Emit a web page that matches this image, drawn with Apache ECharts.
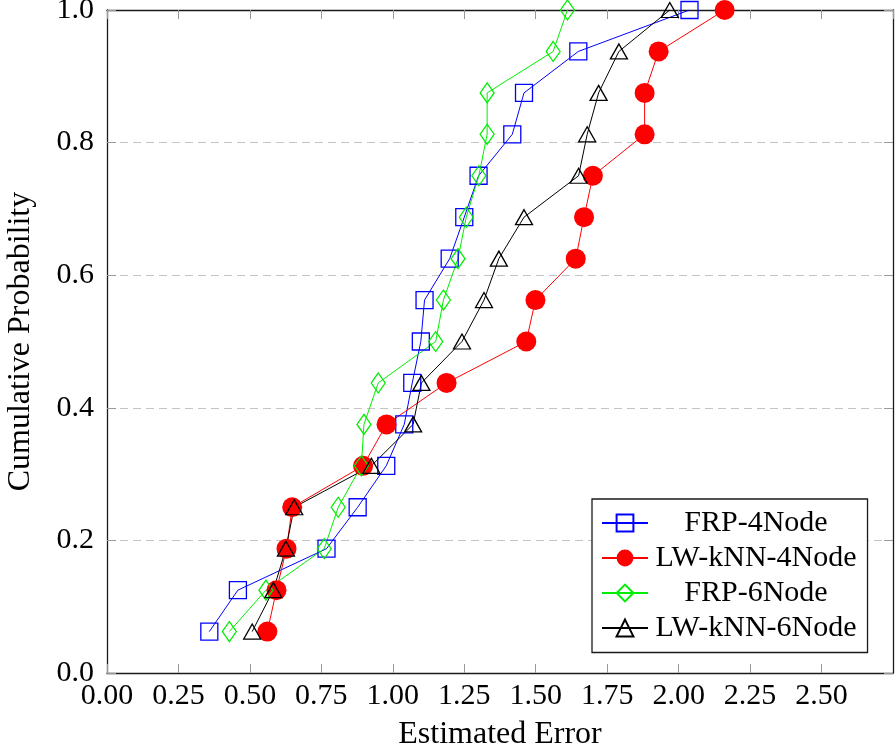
<!DOCTYPE html>
<html>
<head>
<meta charset="utf-8">
<script src="https://cdn.jsdelivr.net/npm/echarts@6/dist/echarts.min.js"></script>
<style>
  html, body { margin: 0; padding: 0; background: #fff; }
  #chart { width: 896px; height: 754px; }
</style>
</head>
<body>
<div id="chart"></div>
<script>
// Cumulative probability levels (k/16)
const probLevels = [0.0625, 0.125, 0.1875, 0.25, 0.3125, 0.375, 0.4375, 0.5,
                    0.5625, 0.625, 0.6875, 0.75, 0.8125, 0.875, 0.9375, 1.0];

// Sorted estimated errors for each method
const errFRP4 = [0.358, 0.458, 0.768, 0.877, 0.977, 1.04, 1.068, 1.098,
                 1.111, 1.199, 1.25, 1.30, 1.418, 1.459, 1.649, 2.038];
const errKNN4 = [0.561, 0.593, 0.628, 0.648, 0.896, 0.978, 1.188, 1.467,
                 1.499, 1.640, 1.669, 1.70, 1.881, 1.881, 1.930, 2.161];
const errFRP6 = [0.428, 0.556, 0.760, 0.809, 0.890, 0.899, 0.949, 1.150,
                 1.177, 1.228, 1.257, 1.301, 1.330, 1.330, 1.561, 1.611];
const errKNN6 = [0.508, 0.582, 0.626, 0.655, 0.925, 1.071, 1.100, 1.242,
                 1.319, 1.371, 1.459, 1.650, 1.680, 1.720, 1.791, 1.969];

const seriesNames = ['FRP-4Node', 'LW-kNN-4Node', 'FRP-6Node', 'LW-kNN-6Node'];

const FONT = '"Liberation Serif", "DejaVu Serif", serif';

function pairs(xs) {
  return xs.map((x, i) => [x, probLevels[i]]);
}

function makeSeries(name, xs, color, symbol, size, filled) {
  return {
    name: name,
    type: 'line',
    data: pairs(xs),
    symbol: symbol,
    symbolSize: size,
    showAllSymbol: true,
    lineStyle: { color: color, width: 1 },
    itemStyle: filled
      ? { color: color, borderColor: color, borderWidth: 0 }
      : { color: 'rgba(0,0,0,0)', borderColor: color, borderWidth: 1.3 },
    emphasis: { disabled: true },
    animation: false
  };
}

const chart = echarts.init(document.getElementById('chart'), null, { renderer: 'canvas' });

const axisLineStyle = { color: '#1a1a1a', width: 1.3 };
const tickStyle = { show: true, inside: true, length: 9, lineStyle: { color: '#999', width: 1 } };

chart.setOption({
  backgroundColor: '#fff',
  animation: false,
  grid: { left: 107, right: 3, top: 10, bottom: 81, outerBoundsMode: 'none', containLabel: false },
  legend: {
    orient: 'vertical',
    left: 592,
    top: 499,
    padding: [9, 11, 9.5, 9],
    itemWidth: 46,
    itemHeight: 21,
    itemGap: 5,
    borderColor: '#1a1a1a',
    borderWidth: 1.3,
    backgroundColor: '#fff',
    data: seriesNames,
    formatter: n => '{c|' + n + '}',
    textStyle: {
      fontFamily: FONT,
      fontSize: 30,
      color: '#000',
      rich: { c: { width: 206, align: 'center', fontFamily: FONT, fontSize: 30, color: '#000' } }
    }
  },
  xAxis: [
    {
      type: 'value', min: 0, max: 2.75, interval: 0.25,
      name: 'Estimated Error', nameLocation: 'middle', nameGap: 46,
      nameTextStyle: { fontFamily: FONT, fontSize: 32, color: '#000' },
      axisLine: { show: true, onZero: false, lineStyle: axisLineStyle },
      axisTick: tickStyle,
      axisLabel: {
        fontFamily: FONT, fontSize: 30, color: '#000', margin: 8,
        showMaxLabel: false,
        formatter: v => v.toFixed(2)
      },
      splitLine: { show: false }
    },
    {
      type: 'value', position: 'top', min: 0, max: 2.75, interval: 0.25,
      axisLine: { show: true, onZero: false, lineStyle: axisLineStyle },
      axisTick: tickStyle,
      axisLabel: { show: false },
      splitLine: { show: false }
    }
  ],
  yAxis: [
    {
      type: 'value', min: 0, max: 1, interval: 0.2,
      name: 'Cumulative Probability', nameLocation: 'middle', nameGap: 70,
      nameTextStyle: { fontFamily: FONT, fontSize: 32, color: '#000' },
      axisLine: { show: true, onZero: false, lineStyle: axisLineStyle },
      axisTick: tickStyle,
      axisLabel: {
        fontFamily: FONT, fontSize: 30, color: '#000', margin: 13,
        formatter: v => v.toFixed(1)
      },
      splitLine: { show: true, lineStyle: { color: '#c4c4c4', width: 1, type: [8, 5] } }
    },
    {
      type: 'value', position: 'right', min: 0, max: 1, interval: 0.2,
      axisLine: { show: true, onZero: false, lineStyle: axisLineStyle },
      axisTick: tickStyle,
      axisLabel: { show: false },
      splitLine: { show: false }
    }
  ],
  series: [
    makeSeries(seriesNames[0], errFRP4, '#0000ff', 'rect', 17, false),
    makeSeries(seriesNames[1], errKNN4, '#ff0000', 'circle', 20, true),
    makeSeries(seriesNames[2], errFRP6, '#00ee00', 'diamond', [14, 20], false),
    makeSeries(seriesNames[3], errKNN6, '#000000', 'triangle', [17, 15], false)
  ]
});
</script>
</body>
</html>
